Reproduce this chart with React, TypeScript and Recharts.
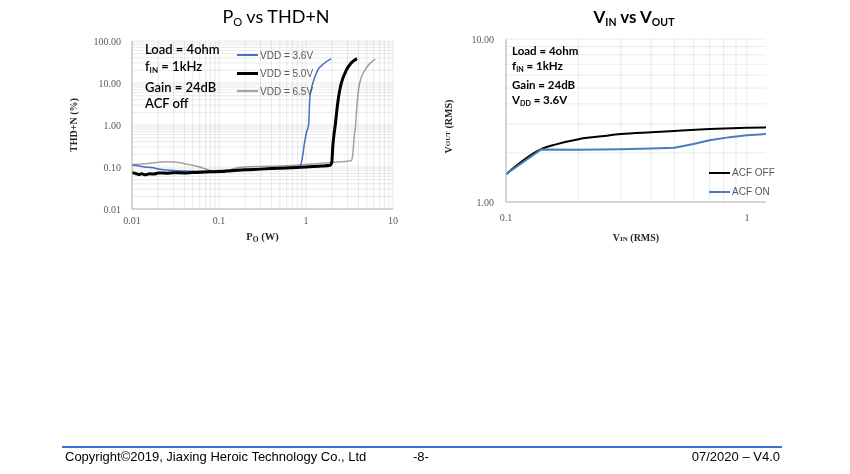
import React from "react";
import { LineChart, Line, XAxis, YAxis, Legend, Label } from "recharts";

type Pt = { x: number; y: number };
const pts = (rows: number[][]): Pt[] => rows.map(([x, y]) => ({ x, y }));

// 1-2-...-9 gridlines per decade
const logGrid = (from: number, to: number) => {
  const out: number[] = [];
  for (let d = from; d < to * 0.999; d *= 10)
    for (let m = 1; m < 10; m++) out.push(Number((m * d).toPrecision(3)));
  out.push(to);
  return out;
};

// ---- P_O vs THD+N ----
const poMajor = [0.01, 0.1, 1, 10];
const thdMajor = [0.01, 0.1, 1, 10, 100];

const vdd36 = pts([
  [0.01, 0.11], [0.012, 0.106], [0.014, 0.1], [0.017, 0.097], [0.02, 0.09], [0.025, 0.085],
  [0.03, 0.083], [0.04, 0.08], [0.06, 0.079], [0.08, 0.08], [0.1, 0.082], [0.15, 0.085],
  [0.2, 0.087], [0.3, 0.09], [0.5, 0.094], [0.7, 0.098], [0.85, 0.102], [0.9, 0.15],
  [0.96, 0.37], [1.02, 0.7], [1.07, 1], [1.11, 4.7], [1.2, 10], [1.36, 20], [1.64, 30], [1.95, 38],
]);
const vdd50 = pts([
  [0.01, 0.073], [0.011, 0.07], [0.012, 0.066], [0.013, 0.069], [0.014, 0.065], [0.016, 0.069],
  [0.018, 0.068], [0.02, 0.072], [0.025, 0.071], [0.03, 0.073], [0.04, 0.072], [0.05, 0.074],
  [0.07, 0.076], [0.1, 0.078], [0.15, 0.083], [0.2, 0.086], [0.3, 0.089], [0.5, 0.094],
  [1, 0.1], [1.5, 0.105], [1.9, 0.11], [1.98, 0.13], [2.03, 0.3], [2.1, 0.6], [2.17, 1],
  [2.3, 3], [2.45, 7], [2.55, 10], [2.9, 20], [3.3, 30], [3.86, 38],
]);
const vdd65 = pts([
  [0.01, 0.115], [0.013, 0.118], [0.017, 0.125], [0.02, 0.13], [0.025, 0.133], [0.03, 0.132],
  [0.04, 0.12], [0.05, 0.11], [0.06, 0.1], [0.07, 0.09], [0.08, 0.082], [0.1, 0.074],
  [0.12, 0.08], [0.15, 0.092], [0.2, 0.1], [0.3, 0.103], [0.5, 0.106], [1, 0.115],
  [2, 0.128], [3.3, 0.14], [3.45, 0.2], [3.6, 0.6], [3.72, 1], [3.85, 3], [4.14, 10],
  [4.73, 20], [5.5, 30], [6.27, 37],
]);

// ---- V_IN vs V_OUT ----
const vinMajor = [0.1, 1];
const voutMajor = [1, 10];
const acfOff = pts([
  [0.1, 1.48], [0.14, 2.11], [0.16, 2.25], [0.2, 2.43], [0.25, 2.53], [0.3, 2.61],
  [0.4, 2.68], [0.5, 2.73], [0.7, 2.8], [1, 2.85], [1.2, 2.87],
]);
const acfOn = pts([
  [0.1, 1.48], [0.14, 2.1], [0.2, 2.09], [0.3, 2.11], [0.4, 2.13], [0.5, 2.15],
  [0.6, 2.27], [0.7, 2.39], [0.85, 2.5], [1, 2.57], [1.2, 2.61],
]);

const serif = "'Liberation Serif', 'Times New Roman', serif";
const calibri = "Lato, 'Open Sans', sans-serif";
const arial = "'Liberation Sans', Arial, sans-serif";
// ticks get painted twice and after the series, so the gridlines multiply
// (a lighter grey that ends up around #d9d9d9) instead of covering the lines
const gridColor = "#ebebeb";
const axisColor = "#bfbfbf";
const gridLineStyle: React.CSSProperties = { mixBlendMode: "multiply" };

const Sub = ({ children }: { children: React.ReactNode }) => (
  <span style={{ fontSize: "0.62em", verticalAlign: "-0.28em" }}>{children}</span>
);

const legendWidths: Record<string, number> = {
  "VDD = 3.6V": 1.5, "VDD = 5.0V": 3, "VDD = 6.5V": 1.5, "ACF OFF": 2, "ACF ON": 2,
};

const makeLegend = (order: string[], gap: number) => (props: any) => {
  const items = [...(props.payload || [])].sort(
    (a: any, b: any) => order.indexOf(a.value) - order.indexOf(b.value)
  );
  return (
    <div>
      {items.map((it: any) => (
        <div key={it.value} style={{ display: "flex", alignItems: "center", height: gap }}>
          <div style={{ width: 21, height: legendWidths[it.value], background: it.color }} />
          <span style={{ marginLeft: 2, fontFamily: arial, fontSize: 10, color: "#595959" }}>
            {it.value}
          </span>
        </div>
      ))}
    </div>
  );
};

const poTicks = logGrid(0.01, 10);
const thdTicks = logGrid(0.01, 100);
const vinTicks = logGrid(0.1, 1);
const voutTicks = logGrid(1, 10);

// tick renderers: label for decades + the gridline through that tick
const xTick = (major: number[], off: number, plotH: number) => (p: any) => {
  const v = p.payload.value;
  return (
    <g>
      <line x1={p.x} x2={p.x} y1={p.y - off} y2={p.y - off - plotH} stroke={gridColor} style={gridLineStyle} />
      {major.includes(v) && (
        <text x={p.x} y={p.y} dy="0.71em" textAnchor="middle" fontFamily={serif} fontSize={10} fill="#595959">
          {String(v)}
        </text>
      )}
    </g>
  );
};
const yTick = (major: number[], off: number, plotW: number) => (p: any) => {
  const v = p.payload.value;
  return (
    <g>
      <line x1={p.x + off} x2={p.x + off + plotW} y1={p.y} y2={p.y} stroke={gridColor} style={gridLineStyle} />
      {major.includes(v) && (
        <text x={p.x} y={p.y} dy="0.355em" textAnchor="end" fontFamily={serif} fontSize={10} fill="#595959">
          {v.toFixed(2)}
        </text>
      )}
    </g>
  );
};

const PoChart = () => (
  <LineChart width={350} height={232} margin={{ top: 11, right: 17, left: 22, bottom: 23 }}>
    <XAxis
      dataKey="x" type="number" scale="log" domain={[0.01, 10]} allowDataOverflow
      ticks={poTicks} interval={0} tick={xTick(poMajor, 8, 168)}
      tickLine={false} tickSize={6} tickMargin={2} height={30}
      axisLine={{ stroke: axisColor }}
    >
      <Label
        content={({ viewBox }: any) => (
          <text x={viewBox.x + viewBox.width / 2} y={viewBox.y + 31} textAnchor="middle"
            fontFamily={serif} fontWeight="bold" fontSize={10.5} fill="#262626">
            P<tspan fontSize={7.5} dy={2}>O</tspan><tspan dy={-2}> (W)</tspan>
          </text>
        )}
      />
    </XAxis>
    <YAxis
      type="number" scale="log" domain={[0.01, 100]} allowDataOverflow
      ticks={thdTicks} interval={0} tick={yTick(thdMajor, 11, 261)}
      tickLine={false} tickSize={6} tickMargin={5} width={50}
      axisLine={{ stroke: axisColor }}
    >
      <Label
        content={({ viewBox }: any) => {
          const cx = viewBox.x + viewBox.width - 59;
          const cy = viewBox.y + viewBox.height / 2;
          return (
            <text transform={`translate(${cx},${cy}) rotate(-90)`} textAnchor="middle"
              dominantBaseline="central" fontFamily={serif} fontWeight="bold" fontSize={10} fill="#262626">
              THD+N (%)
            </text>
          );
        }}
      />
    </YAxis>
    <Legend
      layout="vertical" align="center" verticalAlign="middle"
      wrapperStyle={{ left: 177, top: 16, width: "auto", height: "auto" }}
      content={makeLegend(["VDD = 3.6V", "VDD = 5.0V", "VDD = 6.5V"], 18)}
    />
    <Line data={vdd65} dataKey="y" name="VDD = 6.5V" type="monotone" stroke="#a5a5a5" strokeWidth={1.5} dot={false} isAnimationActive={false} />
    <Line data={vdd36} dataKey="y" name="VDD = 3.6V" type="monotone" stroke="#4472c4" strokeWidth={1.5} dot={false} isAnimationActive={false} />
    <Line data={vdd50} dataKey="y" name="VDD = 5.0V" type="monotone" stroke="#000000" strokeWidth={3} dot={false} isAnimationActive={false} />
  </LineChart>
);

const VinChart = () => (
  <LineChart width={350} height={230} margin={{ top: 11, right: 14, left: 16, bottom: 26 }}>
    <XAxis
      dataKey="x" type="number" scale="log" domain={[0.1, 1.2]} allowDataOverflow
      ticks={vinTicks} interval={0} tick={xTick(vinMajor, 12, 163)}
      tickLine={false} tickSize={6} tickMargin={6} height={30}
      axisLine={{ stroke: axisColor }}
    >
      <Label
        content={({ viewBox }: any) => (
          <text x={viewBox.x + viewBox.width / 2} y={viewBox.y + 39} textAnchor="middle"
            fontFamily={serif} fontWeight="bold" fontSize={10} fill="#262626">
            V<tspan fontSize={7}>IN</tspan> (RMS)
          </text>
        )}
      />
    </XAxis>
    <YAxis
      type="number" scale="log" domain={[1, 10]} allowDataOverflow
      ticks={voutTicks} interval={0} tick={yTick(voutMajor, 12, 260)}
      tickLine={false} tickSize={6} tickMargin={6} width={60}
      axisLine={{ stroke: axisColor }}
    >
      <Label
        content={({ viewBox }: any) => {
          const cx = viewBox.x + viewBox.width - 58;
          const cy = viewBox.y + viewBox.height / 2 + 6;
          return (
            <text transform={`translate(${cx},${cy}) rotate(-90)`} textAnchor="middle"
              dominantBaseline="central" fontFamily={serif} fontWeight="bold" fontSize={10} fill="#262626">
              V<tspan fontSize={7}>OUT</tspan> (RMS)
            </text>
          );
        }}
      />
    </YAxis>
    <Legend
      layout="vertical" align="center" verticalAlign="middle"
      wrapperStyle={{ left: 279, top: 135, width: "auto", height: "auto" }}
      content={makeLegend(["ACF OFF", "ACF ON"], 19)}
    />
    <Line data={acfOff} dataKey="y" name="ACF OFF" type="monotone" stroke="#000000" strokeWidth={2} dot={false} isAnimationActive={false} />
    <Line data={acfOn} dataKey="y" name="ACF ON" type="linear" stroke="#4a7ebb" strokeWidth={2} dot={false} isAnimationActive={false} />
  </LineChart>
);

const noteStyle = (size: number, lh: number, weight: number): React.CSSProperties => ({
  position: "absolute", fontFamily: calibri, fontSize: size, lineHeight: `${lh}px`,
  fontWeight: weight, color: "#000",
});

const footStyle: React.CSSProperties = {
  position: "absolute", top: 449, fontFamily: arial, fontSize: 13, color: "#000", whiteSpace: "nowrap",
};

export default function App() {
  return (
    <div style={{ position: "absolute", left: 0, top: 0, width: 850, height: 474, background: "#fff", overflow: "hidden" }}>
      <div style={{ position: "absolute", left: 176, top: 5, width: 200, textAlign: "center", fontFamily: calibri, fontSize: 18, lineHeight: "22px" }}>
        P<Sub>O</Sub> vs THD+N
      </div>
      <div style={{ position: "absolute", left: 534, top: 6, width: 200, textAlign: "center", fontFamily: calibri, fontSize: 17, fontWeight: 700, lineHeight: "22px" }}>
        V<Sub>IN</Sub> vs V<Sub>OUT</Sub>
      </div>

      <div style={{ position: "absolute", left: 60, top: 30 }}>
        <PoChart />
      </div>
      <div style={{ position: "absolute", left: 430, top: 28 }}>
        <VinChart />
      </div>

      <div style={{ ...noteStyle(13, 16.7, 600), left: 145, top: 41 }}>
        <div>Load = 4ohm</div>
        <div>f<Sub>IN</Sub> = 1kHz</div>
        <div>Gain = 24dB</div>
        <div>ACF off</div>
      </div>
      <div style={{ ...noteStyle(11.5, 15, 700), left: 512, top: 43 }}>
        <div>Load = 4ohm</div>
        <div>f<Sub>IN</Sub> = 1kHz</div>
        <div>Gain = 24dB</div>
        <div>V<Sub>DD</Sub> = 3.6V</div>
      </div>

      <div style={{ position: "absolute", left: 62, top: 446, width: 720, height: 2, background: "#3b6fd6" }} />
      <div style={{ ...footStyle, left: 65 }}>Copyright©2019, Jiaxing Heroic Technology Co., Ltd</div>
      <div style={{ ...footStyle, left: 413 }}>-8-</div>
      <div style={{ ...footStyle, right: 70 }}>07/2020 – V4.0</div>
    </div>
  );
}
